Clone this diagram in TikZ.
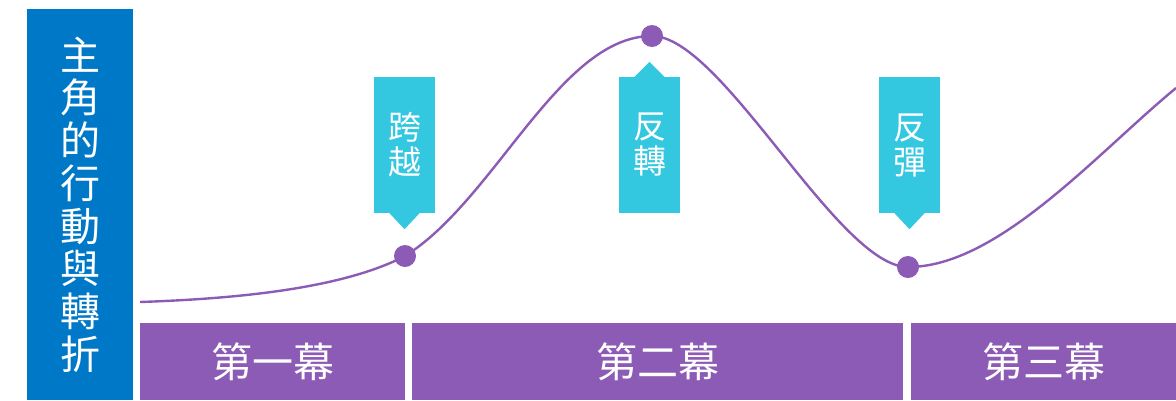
\documentclass[tikz,border=0pt]{standalone}
\usepackage{fontspec}
\newfontfamily\cjk{Noto Sans CJK TC}
\definecolor{mblue}{HTML}{0078C8}
\definecolor{mpurple}{HTML}{8C5BB5}
\definecolor{mcyan}{HTML}{33C7E0}
\tikzset{
  sidebox/.style={fill=mblue, text=white, minimum width=106pt, minimum height=391pt, inner sep=0pt},
  sidetext/.style={text=white, align=center, inner sep=0pt, font=\cjk\fontsize{40}{42.7}\selectfont},
  actbox/.style={fill=mpurple, text=white, minimum height=77pt, inner sep=0pt, font=\cjk\fontsize{41}{41}\selectfont},
  callout/.style={fill=mcyan, text=white, minimum width=61pt, minimum height=136pt, inner sep=0pt, align=center, font=\cjk\fontsize{33}{35}\selectfont},
  curveline/.style={draw=mpurple, line width=2.4pt},
  turndot/.style={circle, fill=mpurple, minimum size=22pt, inner sep=0pt},
}
\begin{document}
\begin{tikzpicture}[x=1pt, y=-1pt]
\useasboundingbox (0,0) rectangle (1176,400);
% side label
\node[sidebox] (side) at (80,204.5) {};
\node[sidetext] (sidet) at (side.center) {主\\角\\的\\行\\動\\與\\轉\\折};
% acts
\node[actbox, minimum width=265pt] (act1) at (272.5,361.5) {第一幕};
\node[actbox, minimum width=491pt] (act2) at (657.5,361.5) {第二幕};
\node[actbox, minimum width=265pt] (act3) at (1043.5,361.5) {第三幕};
% curve anchors
\coordinate (start) at (140,302);
\coordinate (p1) at (405,256);
\coordinate (p2) at (652,36);
\coordinate (p3) at (908,267);
\coordinate (finish) at (1176,88);
% curve
\draw[curveline] (start) .. controls (228,299) and (340,290) .. (p1)
  .. controls (495,200) and (560,36) .. (p2)
  .. controls (722,36) and (838,267) .. (p3)
  .. controls (998,267) and (1096,154) .. (finish);
% dots
\node[turndot] (d1) at (p1) {};
\node[turndot] (d2) at (p2) {};
\node[turndot] (d3) at (p3) {};
% callouts
\node[callout] (c1) at (404.5,145) {跨\\越};
\node[callout] (c2) at (649.5,145) {反\\轉};
\node[callout] (c3) at (909.5,145) {反\\彈};
\fill[mcyan] ([xshift=-15.5pt,yshift=0.5pt]c1.south) -- ([yshift=-16pt]c1.south) -- ([xshift=15.5pt,yshift=0.5pt]c1.south) -- cycle;
\fill[mcyan] ([xshift=-15.5pt,yshift=-0.5pt]c2.north) -- ([yshift=15pt]c2.north) -- ([xshift=15.5pt,yshift=-0.5pt]c2.north) -- cycle;
\fill[mcyan] ([xshift=-15.5pt,yshift=0.5pt]c3.south) -- ([yshift=-16pt]c3.south) -- ([xshift=15.5pt,yshift=0.5pt]c3.south) -- cycle;
\end{tikzpicture}
\end{document}
